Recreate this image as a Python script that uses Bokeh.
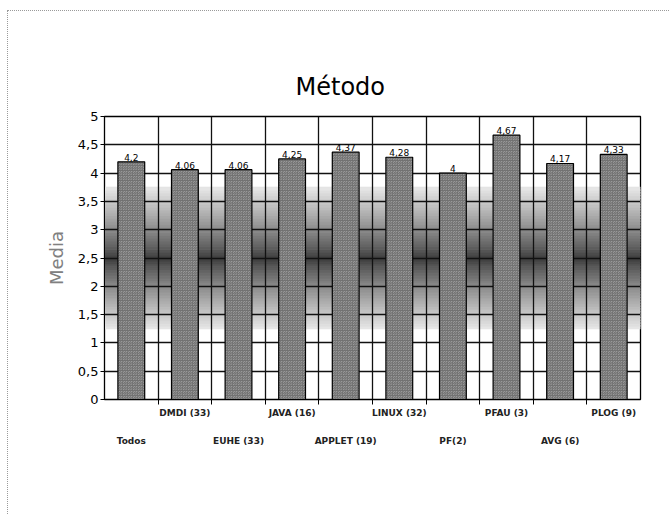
import numpy as np
from bokeh.plotting import figure
from bokeh.models import (Range1d, FixedTicker, LinearAxis, CustomJSTickFormatter,
                          ColumnDataSource)
from bokeh.core.properties import value
from bokeh.embed import file_html
from bokeh.resources import INLINE

# Mean score per method group
categories = ["Todos", "DMDI (33)", "EUHE (33)", "JAVA (16)", "APPLET (19)",
              "LINUX (32)", "PF(2)", "PFAU (3)", "AVG (6)", "PLOG (9)"]
means = [4.2, 4.06, 4.06, 4.25, 4.37, 4.28, 4.0, 4.67, 4.17, 4.33]
y_ticks = [0, 0.5, 1, 1.5, 2, 2.5, 3, 3.5, 4, 4.5, 5]

centers = [i + 0.5 for i in range(len(categories))]
value_labels = [f"{v:g}".replace(".", ",") for v in means]

p = figure(width=662, height=504, output_backend="svg", toolbar_location=None,
           x_range=Range1d(0, len(categories)), y_range=Range1d(0, 5),
           min_border_left=96, min_border_right=30, min_border_top=105,
           min_border_bottom=116, title="Método")
p.margin = (10, 0, 0, 7)
p.styles = {"border-top": "1px dotted #9a9a9a", "border-left": "1px dotted #9a9a9a"}
p.background_fill_color = "white"
p.border_fill_color = "white"
p.outline_line_color = "black"
p.outline_line_width = 1.3

p.title.text_font = "DejaVu Sans"
p.title.text_font_size = "24px"
p.title.text_font_style = "normal"
p.title.text_color = "black"
p.title.align = "left"
p.title.offset = 191
p.title.standoff = 31

# shaded band behind the grid, darkest at the middle of the scale
edges = np.linspace(1.25, 3.75, 51)
mids = (edges[:-1] + edges[1:]) / 2
shade = []
for m in mids:
    d = min(abs(m - 2.5) / 1.25, 1.0)
    g = int(60 + (232 - 60) * d ** 0.85)
    shade.append(f"#{g:02x}{g:02x}{g:02x}")
band = p.quad(left=0, right=len(categories), bottom=edges[:-1] - 0.006,
              top=edges[1:] + 0.006, fill_color=shade, line_color=shade,
              line_width=0.5)
band.level = "image"

# bars
src = ColumnDataSource(dict(x=centers, top=means, lab=value_labels))
p.vbar(x="x", top="top", width=0.5, bottom=0, source=src,
       fill_color="#c4c4c4", line_color="black", line_width=1.2,
       hatch_pattern="criss_cross", hatch_color="#707070", hatch_scale=2.5,
       hatch_weight=1)
p.text(x="x", y="top", text="lab", source=src, text_align="center",
       text_baseline="bottom", y_offset=-1, text_font=value("DejaVu Sans"),
       text_font_size="9px", text_color="black")

# grid
p.xgrid.ticker = FixedTicker(ticks=list(range(0, len(categories) + 1)))
p.ygrid.ticker = FixedTicker(ticks=y_ticks)
for g in (p.xgrid, p.ygrid):
    g.grid_line_color = "#111111"
    g.grid_line_width = 1.3

# y axis
ya = p.yaxis[0]
ya.ticker = FixedTicker(ticks=y_ticks)
ya.formatter = CustomJSTickFormatter(code="return String(tick).replace('.', ',')")
ya.major_label_text_font = "DejaVu Sans"
ya.major_label_text_font_size = "13px"
ya.major_label_text_color = "black"
ya.major_tick_out = 4
ya.major_tick_in = 0
ya.minor_tick_line_color = None
ya.major_label_standoff = 2
ya.axis_line_color = "black"
ya.axis_label = "Media"
ya.axis_label_text_font = "DejaVu Sans"
ya.axis_label_text_font_size = "18px"
ya.axis_label_text_font_style = "normal"
ya.axis_label_text_color = "#808080"
ya.axis_label_standoff = 8

name_fmt = CustomJSTickFormatter(args=dict(names=categories),
                                 code="return names[Math.floor(tick)]")

# x axis: tick marks at group boundaries, first row of labels
xa = p.xaxis[0]
xa.ticker = FixedTicker(ticks=centers[1::2], minor_ticks=list(range(1, len(categories))))
xa.formatter = name_fmt
xa.major_tick_line_color = None
xa.major_tick_out = 0
xa.major_tick_in = 0
xa.minor_tick_out = 5
xa.minor_tick_in = 0
xa.minor_tick_line_color = "black"
xa.axis_line_color = "black"
xa.major_label_standoff = 3
xa.major_label_text_font = "DejaVu Sans"
xa.major_label_text_font_style = "bold"
xa.major_label_text_font_size = "9px"
xa.major_label_text_color = "#222222"

# second row of labels
xb = LinearAxis(ticker=FixedTicker(ticks=centers[0::2]), formatter=name_fmt,
                axis_line_color=None, major_tick_line_color=None,
                minor_tick_line_color=None, major_label_standoff=9,
                major_label_text_font="DejaVu Sans", major_label_text_font_style="bold",
                major_label_text_font_size="9px", major_label_text_color="#222222")
p.add_layout(xb, "below")

open("out.html", "w").write(file_html(p, INLINE))
